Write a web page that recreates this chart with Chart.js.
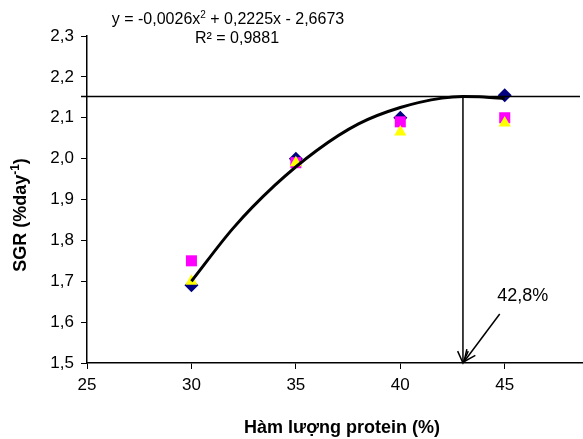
<!DOCTYPE html>
<html>
<head>
<meta charset="utf-8">
<script src="https://cdn.jsdelivr.net/npm/chart.js@4/dist/chart.umd.min.js"></script>
<style>
  html, body { margin: 0; padding: 0; background: #fff; }
  #wrap { width: 583px; height: 439px; position: relative; }
</style>
</head>
<body>
<div id="wrap"><canvas id="c" width="583" height="439"></canvas></div>
<script>
// ---- data ----
const proteinLevels = [30, 35, 40, 45];
const sgrDiamond = [1.69, 2.00, 2.10, 2.155];
const sgrSquare = [1.75, 1.99, 2.09, 2.10];
const sgrTriangle = [1.70, 1.99, 2.065, 2.087];
const trendX = [30, 32, 34, 36, 38, 40, 42, 43, 44, 45];
const trendY = [1.70, 1.83, 1.935, 2.02, 2.085, 2.125, 2.148, 2.152, 2.151, 2.147];
const xTicks = [25, 30, 35, 40, 45];
const yTicks = [1.5, 1.6, 1.7, 1.8, 1.9, 2.0, 2.1, 2.2, 2.3];
const optimumX = 43.0;      // 42,8% marker position
const optimumY = 2.152;     // horizontal line level
const labelText = '42,8%';
const equationText = ['y = -0,0026x', '2', ' + 0,2225x - 2,6673'];
const r2Text = 'R² = 0,9881';
const xTitle = 'Hàm lượng protein (%)';
const yTitle = ['SGR (%day', '-1', ')'];

const FONT = '"Liberation Sans", Arial, sans-serif';

function pts(xs, ys) { return xs.map((x, i) => ({ x: x, y: ys[i] })); }

function arrowHead(ctx, x1, y1, x2, y2, len) {
  const a = Math.atan2(y2 - y1, x2 - x1);
  const spread = 0.42;
  ctx.beginPath();
  ctx.moveTo(x2 - len * Math.cos(a - spread), y2 - len * Math.sin(a - spread));
  ctx.lineTo(x2, y2);
  ctx.lineTo(x2 - len * Math.cos(a + spread), y2 - len * Math.sin(a + spread));
  ctx.stroke();
}

function drawRuns(ctx, runs, cx, cy, size, bold) {
  const w = [];
  let total = 0;
  runs.forEach((r, i) => {
    const sup = i % 2 === 1;
    ctx.font = (bold ? 'bold ' : '') + (sup ? Math.round(size * 0.65) : size) + 'px ' + FONT;
    const m = ctx.measureText(r).width;
    w.push(m); total += m;
  });
  let x = cx - total / 2;
  ctx.textBaseline = 'middle';
  ctx.textAlign = 'left';
  runs.forEach((r, i) => {
    const sup = i % 2 === 1;
    ctx.font = (bold ? 'bold ' : '') + (sup ? Math.round(size * 0.65) : size) + 'px ' + FONT;
    ctx.fillText(r, x, sup ? cy - size * 0.3 : cy);
    x += w[i];
  });
}

const annot = {
  id: 'annot',
  afterDatasetsDraw(chart) {
    const ctx = chart.ctx;
    const xs = chart.scales.x, ys = chart.scales.y;
    const ca = chart.chartArea;
    ctx.save();
    ctx.strokeStyle = '#000';
    ctx.lineWidth = 1.5;
    const hy = ys.getPixelForValue(optimumY);
    ctx.beginPath();
    ctx.moveTo(ca.left - 6, hy);
    ctx.lineTo(ca.right - 2, hy);
    ctx.stroke();
    const vx = xs.getPixelForValue(optimumX);
    const vy2 = ys.getPixelForValue(1.5);
    ctx.beginPath();
    ctx.moveTo(vx, hy);
    ctx.lineTo(vx, vy2);
    ctx.stroke();
    arrowHead(ctx, vx, hy, vx, vy2, 13);
    const dx1 = xs.getPixelForValue(44.76), dy1 = ys.getPixelForValue(1.62);
    const dx2 = xs.getPixelForValue(43.05), dy2 = ys.getPixelForValue(1.503);
    ctx.beginPath();
    ctx.moveTo(dx1, dy1);
    ctx.lineTo(dx2, dy2);
    ctx.stroke();
    arrowHead(ctx, dx1, dy1, dx2, dy2, 13);
    ctx.fillStyle = '#000';
    ctx.font = '18px ' + FONT;
    ctx.textAlign = 'center';
    ctx.textBaseline = 'middle';
    ctx.fillText(labelText, xs.getPixelForValue(45.86), ys.getPixelForValue(1.664));
    ctx.restore();
  },
  afterDraw(chart) {
    const ctx = chart.ctx;
    ctx.save();
    ctx.fillStyle = '#000';
    drawRuns(ctx, equationText, 228, 20, 16, false);
    ctx.font = '16px ' + FONT;
    ctx.textAlign = 'center';
    ctx.textBaseline = 'middle';
    ctx.fillText(r2Text, 237, 39);
    ctx.font = 'bold 18px ' + FONT;
    ctx.fillText(xTitle, 342, 428);
    ctx.translate(21, 215);
    ctx.rotate(-Math.PI / 2);
    drawRuns(ctx, yTitle, 0, 0, 18, true);
    ctx.restore();
  }
};

new Chart(document.getElementById('c'), {
  type: 'scatter',
  data: {
    datasets: [
      {
        label: 'trend', data: pts(trendX, trendY), showLine: true,
        borderColor: '#000', borderWidth: 3, pointRadius: 0,
        cubicInterpolationMode: 'monotone', fill: false, order: 0
      },
      {
        label: 'triangle', data: pts(proteinLevels, sgrTriangle),
        pointStyle: 'triangle', pointRadius: 7, backgroundColor: '#FFFF00',
        borderColor: '#FFFF00', borderWidth: 0, order: 1
      },
      {
        label: 'square', data: pts(proteinLevels, sgrSquare),
        pointStyle: 'rect', pointRadius: 7.8, backgroundColor: '#FF00FF',
        borderColor: '#FF00FF', borderWidth: 0, order: 2
      },
      {
        label: 'diamond', data: pts(proteinLevels, sgrDiamond),
        pointStyle: 'rectRot', pointRadius: 7, backgroundColor: '#000080',
        borderColor: '#000080', borderWidth: 0, order: 3
      }
    ]
  },
  options: {
    responsive: false,
    animation: false,
    events: [],
    layout: { autoPadding: false, padding: { top: 36, right: 1, left: 0, bottom: 0 } },
    plugins: { legend: { display: false }, tooltip: { enabled: false } },
    scales: {
      x: {
        type: 'linear', min: 25, max: 48.7,
        afterBuildTicks: s => { s.ticks = xTicks.map(v => ({ value: v })); },
        afterFit: s => { s.height = 76; s.paddingRight = 0; s.paddingLeft = 0; },
        grid: { drawOnChartArea: false, drawTicks: true, tickLength: 6, color: '#000' },
        border: { display: true, color: '#000', width: 1.5 },
        ticks: { color: '#000', font: { family: FONT, size: 17 }, padding: 6, maxRotation: 0 }
      },
      y: {
        type: 'linear', min: 1.5, max: 2.3,
        afterBuildTicks: s => { s.ticks = yTicks.map(v => ({ value: v })); },
        afterFit: s => { s.width = 87; s.paddingTop = 0; s.paddingBottom = 0; },
        grid: { drawOnChartArea: false, drawTicks: true, tickLength: 6, color: '#000' },
        border: { display: true, color: '#000', width: 1.5 },
        ticks: {
          color: '#000', font: { family: FONT, size: 17 }, padding: 7,
          callback: v => v.toFixed(1).replace('.', ',')
        }
      }
    }
  },
  plugins: [annot]
});
</script>
</body>
</html>
